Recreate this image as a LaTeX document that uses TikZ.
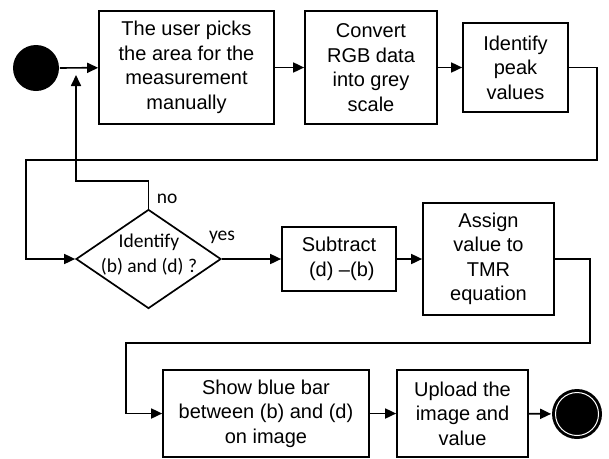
\documentclass[tikz,border=0pt]{standalone}
\usepackage{fontspec}
\setmainfont{Liberation Sans}
\newfontfamily\calfont{Carlito}
\usetikzlibrary{arrows.meta,shapes.geometric}
\begin{document}
\begin{tikzpicture}[x=1pt,y=-1pt,
  line width=1.7pt,
  arr/.style={-{Triangle[length=11pt,width=10pt]}, line width=1.7pt},
  stepbox/.style={draw, line width=1.7pt, align=center, inner sep=0pt,
    font=\fontsize{20}{24.5}\selectfont},
  dec/.style={draw, diamond, line width=1.7pt, inner sep=0pt, minimum width=145pt, minimum height=99pt},
  lab/.style={font=\calfont\fontsize{19.5}{25}\selectfont, inner sep=0pt, align=center}]
\useasboundingbox (0,0) rectangle (609,458);
% start / end
\node (start) [circle, fill=black, inner sep=0pt, minimum size=46pt] at (36,68) {};
\node (stop) [circle, fill=black, inner sep=0pt, minimum size=50pt] at (577,414) {};
\draw[white, line width=1pt] (stop.center) circle (21.5pt);
% top row
\node (b1) [stepbox, minimum width=175pt, minimum height=113pt] at (186.5,67.5)
  {The user picks\\the area for the\\measurement\\manually};
\node (b2) [stepbox, minimum width=132pt, minimum height=113pt] at (371,67.5)
  {Convert\\RGB data\\into grey\\scale};
\node (b3) [stepbox, minimum width=105pt, minimum height=89pt] at (515.5,67.5)
  {Identify\\peak\\values};
% middle row
\node (dia) [dec] at (148.5,259) {};
\node (diat) [lab] at (149,255) {Identify\\(b) and (d) ?};
\node (sub) [stepbox, minimum width=114pt, minimum height=64pt] at (339,259)
  {Subtract\\\ (d) \textendash(b)};
\node (asg) [stepbox, minimum width=131pt, minimum height=112pt] at (488.5,259)
  {Assign\\value to\\TMR\\equation};
% bottom row
\node (show) [stepbox, minimum width=206pt, minimum height=87pt] at (266,413.5)
  {Show blue bar\\between (b) and (d)\\on image};
\node (up) [stepbox, minimum width=131pt, minimum height=87pt] at (462.5,413.5)
  {Upload the\\image and\\value};
% labels
\node (no) [lab, anchor=west] at (156,199) {no};
\node (yes) [lab] at (222,237) {yes};
% connectors
\coordinate (fb) at (76,75);
\draw[arr] (start) -- (b1);
\draw[arr] (b1) -- (b2);
\draw[arr] (b2) -- (b3);
\draw[arr] (b3.east) -- (597,67.5) -- (597,160) -- (26,160) |- (dia.west);
\draw[arr] (dia.north) -- (148.5,181) -- (76,181) -- (fb);
\draw[arr] (dia.east) -- (sub.west);
\draw[arr] (sub) -- (asg);
\draw[arr] (asg.east) -- (590,259) -- (590,343) -- (126,343) |- (show.west);
\draw[arr] (show) -- (up);
\draw[arr] (up) -- (stop);
\end{tikzpicture}
\end{document}
